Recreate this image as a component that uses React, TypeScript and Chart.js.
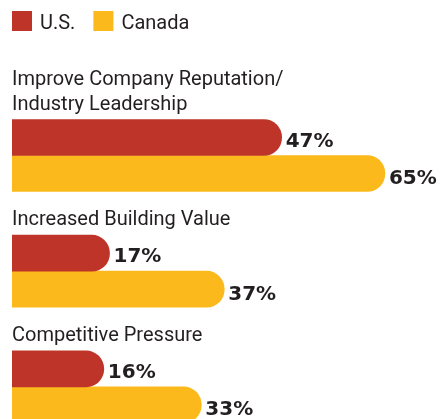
import React, { useEffect, useRef } from "react";
import { Chart, registerables } from "chart.js";

Chart.register(...registerables);

// ---- data ----
const categories: string[][] = [
  ["Improve Company Reputation/", "Industry Leadership"],
  ["Increased Building Value"],
  ["Competitive Pressure"],
];
const seriesNames = ["U.S.", "Canada"];
const usValues = [47, 17, 16];
const canadaValues = [65, 37, 33];

const seriesValues = [usValues, canadaValues];
const seriesColors = ["#be3428", "#fcb91b"];
const TEXT_COLOR = "#231f20";

const labelsPlugin = {
  id: "customLabels",
  afterDatasetsDraw(chart: any) {
    const ctx = chart.ctx as CanvasRenderingContext2D;
    const left = chart.chartArea.left;
    ctx.save();
    ctx.textBaseline = "alphabetic";
    ctx.textAlign = "left";

    // legend
    ctx.font = "20px Roboto";
    let lx = left;
    seriesNames.forEach((name, i) => {
      ctx.fillStyle = seriesColors[i];
      ctx.fillRect(lx, 11, 20, 20);
      lx += 28;
      ctx.fillStyle = TEXT_COLOR;
      ctx.fillText(name, lx, 29);
      lx += ctx.measureText(name).width + 18;
    });

    // category labels above each group
    ctx.fillStyle = TEXT_COLOR;
    const meta0 = chart.getDatasetMeta(0);
    meta0.data.forEach((bar: any, i: number) => {
      const { y, height } = bar.getProps(["y", "height"], true);
      const top = y - height / 2;
      const lines = categories[i];
      lines.forEach((line, j) => {
        ctx.fillText(line, left, top - 10 - (lines.length - 1 - j) * 25);
      });
    });

    // value labels at bar ends
    ctx.font = "bold 20px 'DejaVu Sans'";
    chart.data.datasets.forEach((_ds: any, di: number) => {
      const meta = chart.getDatasetMeta(di);
      meta.data.forEach((bar: any, i: number) => {
        const { x, y } = bar.getProps(["x", "y"], true);
        ctx.fillText(`${seriesValues[di][i]}%`, x + 4, y + (di === 0 ? 9 : 10.5));
      });
    });
    ctx.restore();
  },
};

export default function App() {
  const ref = useRef<HTMLCanvasElement>(null);

  useEffect(() => {
    document.body.style.margin = "0";
    document.body.style.overflow = "hidden";
    const chart = new Chart(ref.current as HTMLCanvasElement, {
      type: "bar",
      data: {
        datasets: seriesNames.map((name, di) => ({
          label: name,
          data: seriesValues[di].map((v, i) => ({ x: v, y: i })),
          backgroundColor: seriesColors[di],
          barThickness: 36,
          borderRadius: 18,
          borderSkipped: "start",
        })),
      },
      options: {
        indexAxis: "y",
        responsive: true,
        maintainAspectRatio: false,
        animation: false,
        layout: { padding: { left: 12, right: 0, top: 0, bottom: 0 } },
        scales: {
          x: { type: "linear", min: 0, max: 74.6, display: false },
          y: {
            type: "linear",
            min: -1.344,
            max: 2.2774,
            reverse: true,
            offset: false,
            display: false,
          },
        },
        plugins: {
          legend: { display: false },
          tooltip: { enabled: false },
        },
      },
      plugins: [labelsPlugin],
    } as any);
    return () => chart.destroy();
  }, []);

  return (
    <div style={{ position: "relative", width: 440, height: 419 }}>
      <canvas ref={ref} />
    </div>
  );
}
